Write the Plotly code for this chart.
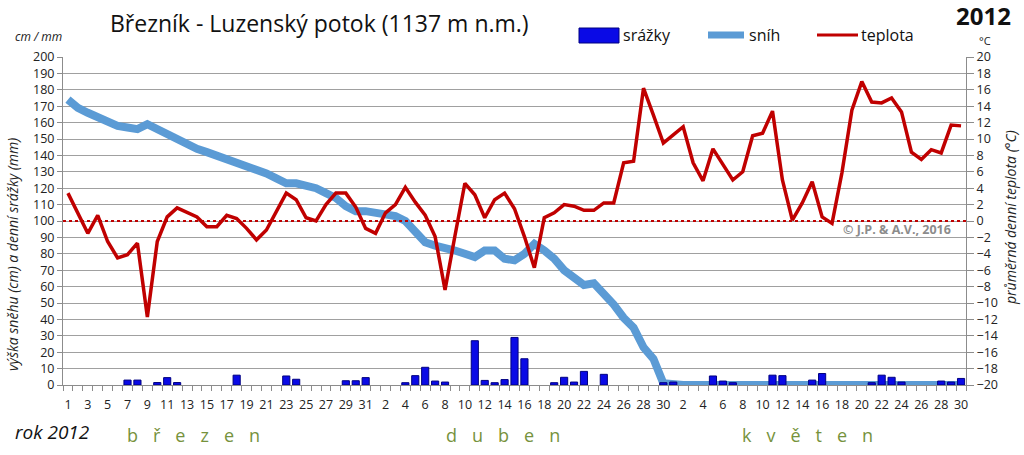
import plotly.graph_objects as go

# ---------------- data ----------------
month_lengths = [31, 30, 30]  # březen, duben, květen (to 30 May)
day_labels = []
for ml in month_lengths:
    day_labels += [str(d) for d in range(1, ml + 1)]

snow = [174, 169, 166, 163, 160, 158, 157, 156, 159, 156,
        152, 149, 146, 144, 142, 140, 138, 136, 134, 131,
        129, 126, 123, 123, 122, 120, 117, 114, 109, 106,
        106, 105, 104, 103, 100, 94, 87, 85, 84, 82,
        80, 78, 82, 82, 77, 76, 80, 86, 82, 77,
        70, 66, 61, 62, 56, 49, 41, 35, 23, 16,
        1, 0, 0, 0, 0, 0, 0, 0, 0, 0,
        0, 0, 0, 0, 0, 0, 0, 0, 0, 0,
        0, 0, 0, 0, 0, 0, 0, 0, 0, 0,
        0]

temp = [3.4, 1.0, -1.5, 0.7, -2.5, -4.5, -4.1, -2.7, -11.7, -2.5,
        0.5, 1.6, 1.0, 0.5, -0.7, -0.7, 0.7, 0.3, -0.9, -2.3,
        -1.1, 1.1, 3.4, 2.6, 0.4, 0.0, 2.0, 3.4, 3.4, 1.7,
        -0.9, -1.5, 1.0, 2.0, 4.1, 2.3, 0.7, -1.9, -8.4, -1.8,
        4.6, 3.2, 0.4, 2.6, 3.4, 1.5, -1.9, -5.7, 0.4, 1.0,
        2.0, 1.8, 1.3, 1.3, 2.2, 2.2, 7.1, 7.3, 16.2, 12.9,
        9.5, 10.5, 11.5, 7.1, 4.9, 8.8, 6.8, 5.0, 6.0, 10.4,
        10.7, 13.4, 5.0, 0.1, 2.2, 4.8, 0.5, -0.3, 5.9, 13.5,
        17.0, 14.5, 14.4, 15.0, 13.3, 8.4, 7.5, 8.7, 8.3, 11.7,
        11.6]

precip = [0, 0, 0, 0, 0, 0, 3, 3, 0, 1.5,
          4.5, 1.5, 0, 0, 0, 0, 0, 6, 0, 0,
          0, 0, 5.5, 3.5, 0, 0, 0, 0, 2.6, 2.6,
          4.5, 0, 0, 0, 1.4, 5.7, 10.8, 2.4, 1.8, 0,
          0, 27, 2.8, 1.4, 3.3, 29, 16, 0, 0, 1.4,
          4.7, 1.8, 8.3, 0, 6.5, 0, 0, 0, 0, 0,
          1.4, 1.8, 0, 0, 0, 5.5, 2.4, 1.4, 0, 0,
          0, 6, 5.7, 0, 0, 3, 7, 0, 0, 0,
          0, 1.4, 6, 4.7, 1.8, 0, 0, 0, 2.4, 1.8,
          4]

left_ticks = list(range(0, 201, 10))
right_ticks = list(range(-20, 21, 2))

# ---------------- layout helpers ----------------
W, H = 1024, 455
L, R, T, B = 63, 58, 57, 70
PW, PH = W - L - R, H - T - B


def px(x):
    return (x - L) / PW


def py(y):
    return (H - B - y) / PH


x = list(range(len(day_labels)))
tickvals = x[::2]
ticktext = day_labels[::2]
precip_plot = [v if v > 0 else None for v in precip]

FONT = "Open Sans"
SNOW_C = "#5B9BD5"
TEMP_C = "#C00000"
BAR_C = "#0A0AE6"
GREEN = "#76923C"

fig = go.Figure()
fig.add_trace(go.Scatter(x=x, y=snow, mode="lines", name="sníh",
                         line=dict(color=SNOW_C, width=8), yaxis="y"))
fig.add_trace(go.Bar(x=x, y=precip_plot, name="srážky", width=0.72,
                     marker=dict(color=BAR_C, line=dict(color="#000080", width=1)),
                     yaxis="y2"))
fig.add_trace(go.Scatter(x=x, y=temp, mode="lines", name="teplota",
                         line=dict(color=TEMP_C, width=3.5), yaxis="y3"))

axis_font = dict(family=FONT, size=12.5, color="#222")

fig.update_layout(
    width=W, height=H,
    margin=dict(l=L, r=R, t=T, b=B, pad=0),
    paper_bgcolor="white", plot_bgcolor="white",
    showlegend=False,
    font=dict(family=FONT),
    xaxis=dict(range=[-0.5, len(x) - 0.5], tickmode="array", tickvals=tickvals,
               ticktext=ticktext, ticks="", showgrid=False, zeroline=False,
               showline=True, linecolor="#8C8C8C", linewidth=1,
               tickfont=axis_font, ticklabelstandoff=8,
               minor=dict(ticks="outside", tick0=-0.5, dtick=1, ticklen=5,
                          tickcolor="#8C8C8C", showgrid=False)),
    yaxis=dict(range=[0, 200], tickmode="array", tickvals=left_ticks,
               showgrid=True, gridcolor="#A0A0A0", gridwidth=1,
               zeroline=False, showline=True, linecolor="#8C8C8C",
               ticks="outside", ticklen=5, tickcolor="#8C8C8C",
               tickfont=axis_font),
    yaxis2=dict(range=[0, 200], overlaying="y", visible=False),
    yaxis3=dict(range=[-20, 20], overlaying="y", side="right",
                tickmode="array", tickvals=right_ticks, showgrid=False,
                zeroline=False, showline=True, linecolor="#8C8C8C",
                ticks="outside", ticklen=7, tickcolor="#8C8C8C",
                tickfont=axis_font),
)

# zero temperature dotted line
fig.add_shape(type="line", xref="paper", x0=0, x1=1, yref="y3", y0=0, y1=0,
              line=dict(color=TEMP_C, width=2, dash="dot"))

ann = []
ann.append(dict(text="Březník - Luzenský potok (1137 m n.m.)", x=px(319), y=py(23),
                font=dict(size=23, color="#111")))
ann.append(dict(text="<b>2012</b>", x=px(984), y=py(15), font=dict(size=24, color="#111")))
ann.append(dict(text="<i>cm / mm</i>", x=px(38), y=py(37), font=dict(size=12, color="#222")))
ann.append(dict(text="°C", x=px(985), y=py(41), font=dict(size=11, color="#222")))
ann.append(dict(text="<i>výška sněhu (cm) a denní srážky (mm)</i>", x=px(12), y=py(255),
                textangle=-90, font=dict(size=14, color="#222")))
ann.append(dict(text="<i>průměrná denní teplota (°C)</i>", x=px(1010), y=py(218),
                textangle=-90, font=dict(size=14, color="#222")))
ann.append(dict(text="<i>rok 2012</i>", x=px(52), y=py(432), font=dict(size=19, color="#111")))
sp = "\u2002\u2004"
ann.append(dict(text=sp.join("březen"), x=px(193), y=py(435), font=dict(size=18, color=GREEN)))
ann.append(dict(text=sp.join("duben"), x=px(503), y=py(435), font=dict(size=18, color=GREEN)))
ann.append(dict(text=sp.join("květen"), x=px(807), y=py(435), font=dict(size=18, color=GREEN)))
ann.append(dict(text="<b>© J.P. & A.V., 2016</b>", x=px(897), y=py(229),
                font=dict(size=12.5, color="#8C8C8C")))
# legend
ann.append(dict(text="srážky", x=px(621), y=py(35), xanchor="left", font=dict(size=16, color="#111")))
ann.append(dict(text="sníh", x=px(747), y=py(35), xanchor="left", font=dict(size=16, color="#111")))
ann.append(dict(text="teplota", x=px(859), y=py(35), xanchor="left", font=dict(size=16, color="#111")))

for a in ann:
    a.setdefault("xanchor", "center")
    a.setdefault("yanchor", "middle")
    fig.add_annotation(xref="paper", yref="paper", showarrow=False, **a)

fig.add_shape(type="rect", xref="paper", yref="paper", x0=px(579), x1=px(619),
              y0=py(43), y1=py(28), fillcolor=BAR_C, line=dict(color="#000080", width=1))
fig.add_shape(type="line", xref="paper", yref="paper", x0=px(708), x1=px(744),
              y0=py(35), y1=py(35), line=dict(color=SNOW_C, width=7))
fig.add_shape(type="line", xref="paper", yref="paper", x0=px(817), x1=px(858),
              y0=py(35), y1=py(35), line=dict(color=TEMP_C, width=3))

fig.write_html("out.html")
